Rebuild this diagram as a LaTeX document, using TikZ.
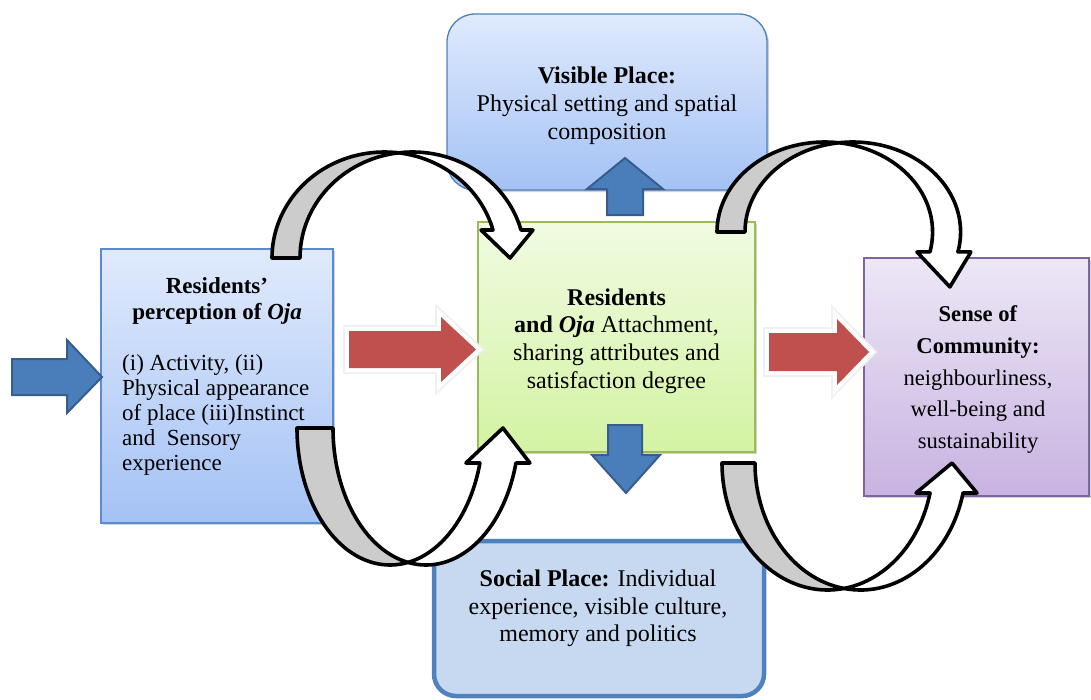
\documentclass[tikz,border=0pt]{standalone}
\usepackage{fontspec}
\setmainfont{Liberation Serif}
\usetikzlibrary{shadows}
\definecolor{cgray}{HTML}{CCCCCC}
\definecolor{bluefill}{HTML}{4A7EBB}
\definecolor{blueline}{HTML}{385D8A}
\definecolor{cred}{HTML}{C0504D}
\definecolor{lbTop}{HTML}{E0EAFC}
\definecolor{lbBot}{HTML}{A4C2F5}
\definecolor{lbLine}{HTML}{5B8BCB}
\definecolor{grTop}{HTML}{F1FBE3}
\definecolor{grBot}{HTML}{D3F3A2}
\definecolor{grLine}{HTML}{9BBB59}
\definecolor{vioTop}{HTML}{EDE7F6}
\definecolor{vioBot}{HTML}{C8B3E1}
\definecolor{vioLine}{HTML}{8064A2}
\definecolor{sbFill}{HTML}{C6D9F0}
\definecolor{sbLine}{HTML}{4F81BD}
\tikzset{
  boxshadow/.style={drop shadow={shadow xshift=2pt,shadow yshift=-2pt,opacity=.3,fill=black!60}},
  gbox/.style={rectangle, line width=1.3pt, inner sep=0pt, boxshadow},
  bluearr/.style={fill=bluefill, draw=blueline, line width=2pt, line join=miter},
  redarr/.style={fill=cred,
     preaction={draw=black!6, line width=12pt, line join=miter},
     preaction={draw=white, line width=8pt, line join=miter}},
  backband/.style={fill=cgray, draw=black, line width=3.6pt, line join=round},
  frontband/.style={fill=white, draw=black, line width=3.6pt, line join=round},
  t24/.style={font=\fontsize{24}{28}\selectfont, align=center, inner sep=0pt},
}
% #1 scope options, #2 rx, #3 ry, #4 band width, #5 head angle, #6 wing, #7 tip drop, #8 tip dx
\newcommand\carrow[8]{%
  \begin{scope}[#1]
    \pgfmathsetmacro\cax{acos(#4/(2*#2))}
    \pgfmathsetmacro\cbx{180-\cax}
    \path[backband] (180:#2 and #3)
      arc[start angle=180, end angle=\cax, x radius=#2, y radius=#3]
      arc[start angle=\cbx, end angle=180, x radius=#2, y radius=#3] -- cycle;
    \path[frontband] (\cax:#2 and #3)
      arc[start angle=\cbx, end angle=#5, x radius=#2, y radius=#3]
      -- ++(#6,0)
      -- ({#2*cos(#5)+#4/2+#8},{#3*sin(#5)-#7})
      -- ({#2*cos(#5)-#6},{#3*sin(#5)})
      -- ({#2*cos(#5)},{#3*sin(#5)})
      arc[start angle=#5, end angle=\cax, x radius=#2, y radius=#3] -- cycle;
  \end{scope}}
\begin{document}
\begin{tikzpicture}[x=1pt,y=1pt]
\useasboundingbox (0,0) rectangle (1091,-699);
\clip (0,0) rectangle (1091,-699);

% boxes
\node[gbox, rounded corners=28pt, top color=lbTop, bottom color=lbBot, draw=sbLine,
      minimum width=320pt, minimum height=176pt] (visible) at (607,-102) {};
\node[gbox, top color=lbTop, bottom color=lbBot, draw=lbLine,
      minimum width=232pt, minimum height=274pt] (percep) at (217,-386) {};
\node[gbox, top color=grTop, bottom color=grBot, draw=grLine,
      minimum width=277pt, minimum height=230pt] (attach) at (616.5,-337) {};
\node[gbox, top color=vioTop, bottom color=vioBot, draw=vioLine,
      minimum width=225pt, minimum height=238pt] (community) at (976.5,-377) {};
\draw[fill=sbFill, draw=sbLine, line width=4.5pt, rounded corners=22pt]
      (434,-541) rectangle (764,-696);

% texts
\node[t24] (visibletxt) at (607,-105.5)
  {\textbf{Visible Place:}\\Physical setting and spatial\\composition};
\node[t24, font=\fontsize{23}{26}\selectfont] (perceptitle) at (217,-301)
  {\textbf{Residents’}\\\textbf{perception of \textit{Oja}}};
\node[t24, font=\fontsize{23}{25}\selectfont, align=left, anchor=west] (perceptxt) at (122,-415)
  {(i) Activity, (ii)\\Physical appearance\\of place (iii)Instinct\\and\ \ Sensory\\experience};
\node[t24, font=\fontsize{24}{27.7}\selectfont] (attachtxt) at (616.5,-341)
  {\textbf{Residents}\\\textbf{and \textit{Oja}} Attachment,\\sharing attributes and\\satisfaction degree};
\node[t24, font=\fontsize{22.6}{31.7}\selectfont] (communitytxt) at (978,-379.5)
  {\textbf{Sense of}\\\textbf{Community:}\\neighbourliness,\\well-being and\\sustainability};
\node[t24, font=\fontsize{24}{27.5}\selectfont] (socialtxt) at (598,-608.5)
  {\textbf{Social Place:} Individual\\experience, visible culture,\\memory and politics};

% blue block arrows
\path[bluearr] (12,-359) -- (67,-359) -- (67,-340) -- (102,-377) -- (67,-413) -- (67,-395) -- (12,-395) -- cycle;
\path[bluearr] (607,-215) -- (607,-189) -- (587,-189) -- (625,-158) -- (663,-189) -- (643,-189) -- (643,-215) -- cycle;
\path[bluearr] (608,-425) -- (642,-425) -- (642,-455) -- (660,-455) -- (626,-493) -- (592,-455) -- (608,-455) -- cycle;

% red block arrows
\path[redarr] (349,-331) -- (441,-331) -- (441,-317) -- (476,-349.5) -- (441,-382) -- (441,-368) -- (349,-368) -- cycle;
\path[redarr] (769,-333) -- (837,-333) -- (837,-319) -- (869,-352) -- (837,-385) -- (837,-371) -- (769,-371) -- cycle;

% curved arrows
\carrow{shift={(384.5,-258)}}{112.5}{106}{28}{15.3}{12}{28}{3}
\carrow{shift={(824.8,-232)}}{107.8}{90}{28}{-12.8}{13}{35}{6}
\carrow{shift={(390,-428)},yscale=-1}{93}{137}{36}{14.8}{14}{35}{5}
\carrow{shift={(827.5,-463)},yscale=-1}{105.5}{127}{33}{13.66}{14}{30}{5.5}
\end{tikzpicture}
\end{document}
